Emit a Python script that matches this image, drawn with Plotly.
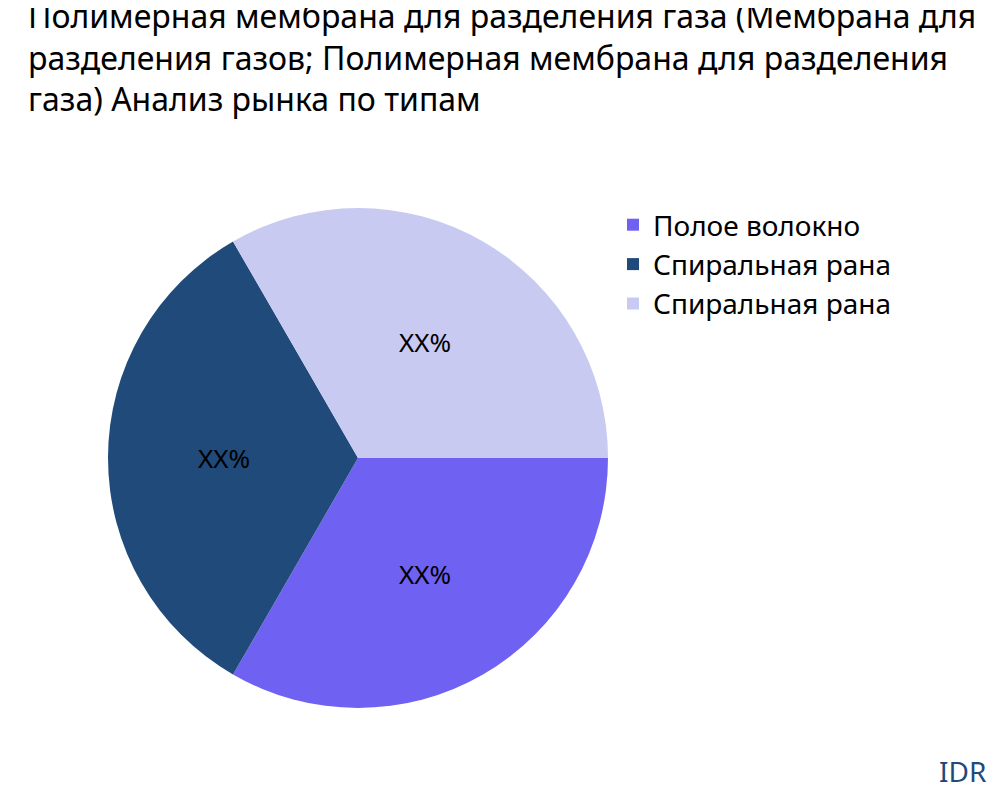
import plotly.graph_objects as go

labels = ["Полое волокно", "Спиральная рана", "Спиральная рана "]
values = [1, 1, 1]
texts = ["XX%", "XX%", "XX%"]
colors = ["#6F62F2", "#1F4A7A", "#C9CAF2"]

fig = go.Figure(go.Pie(
    labels=labels, values=values, text=texts, textinfo="text",
    sort=False, direction="clockwise", rotation=90,
    marker=dict(colors=colors), textfont=dict(size=26, color="black"),
    insidetextorientation="horizontal",
    domain=dict(x=[0.1, 0.6], y=[0.125, 0.75]), hoverinfo="label",
))
fig.update_layout(
    width=1000, height=800,
    font=dict(family="Noto Sans", color="black"),
    title=dict(text="Полимерная мембрана для разделения газа (Мембрана для<br>разделения газов; Полимерная мембрана для разделения<br>газа) Анализ рынка по типам",
               x=0.02, xanchor="left", y=0.975, yanchor="top", font=dict(size=32)),
    margin=dict(l=0, r=0, t=0, b=0),
    legend=dict(x=0.605, y=0.76, yanchor="top", font=dict(size=28), itemsizing="constant"),
    paper_bgcolor="white",
    annotations=[dict(text="IDR", x=0.98, y=0.02, xref="paper", yref="paper", xanchor="right", yanchor="bottom",
                      showarrow=False, font=dict(size=28, color="#1F4A7A"))],
)
fig.write_html("out.html")
